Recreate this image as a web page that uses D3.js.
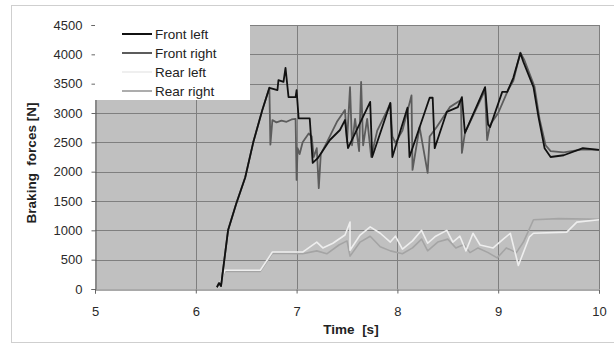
<!DOCTYPE html>
<html>
<head>
<meta charset="utf-8">
<script src="https://cdn.jsdelivr.net/npm/d3@7"></script>
<style>
  body { margin: 0; background: #fff; }
  svg { display: block; font-family: "Liberation Sans", Arial, sans-serif; }
</style>
</head>
<body>
<div id="chart"></div>
<script>
// time [s], force [N]
const frontLeft = [
  [6.21, 30], [6.23, 100], [6.25, 50], [6.32, 1000], [6.40, 1450], [6.49, 1900], [6.57, 2500], [6.66, 3050], [6.73, 3430],
  [6.81, 3390], [6.82, 3560], [6.87, 3530], [6.89, 3770], [6.92, 3270], [6.99, 3270], [7.0, 3390],
  [7.02, 2910], [7.13, 2910], [7.16, 2150], [7.21, 2230], [7.33, 2540], [7.43, 2710], [7.48, 2880],
  [7.51, 2400], [7.73, 3190], [7.75, 2250], [7.93, 3170], [7.95, 2250], [8.10, 3090], [8.12, 2250],
  [8.32, 3260], [8.35, 3260], [8.37, 2400], [8.49, 3020], [8.60, 3100], [8.64, 3270], [8.67, 2660],
  [8.87, 3440], [8.90, 2800], [8.92, 2760], [9.04, 3360], [9.09, 3360], [9.15, 3600], [9.22, 4020],
  [9.25, 3870], [9.35, 3440], [9.40, 2930], [9.46, 2400], [9.52, 2250], [9.65, 2280], [9.84, 2400],
  [10.0, 2370]
];
const frontRight = [
  [6.21, 30], [6.23, 100], [6.25, 50], [6.32, 1000], [6.40, 1450], [6.49, 1900], [6.57, 2500], [6.66, 3050], [6.73, 3430],
  [6.74, 2460], [6.76, 2880], [6.80, 2840], [6.85, 2870], [6.90, 2850], [6.95, 2890], [6.99, 2900],
  [7.0, 1860], [7.01, 2400], [7.03, 2300], [7.06, 2500], [7.12, 2650], [7.15, 2600], [7.17, 2250],
  [7.20, 2400], [7.22, 1720], [7.24, 2300], [7.30, 2500], [7.40, 2850], [7.48, 3050], [7.50, 2500],
  [7.53, 3440], [7.55, 2450], [7.58, 2900], [7.62, 2350], [7.64, 3530], [7.66, 2450], [7.70, 2900],
  [7.74, 2250], [7.80, 2700], [7.90, 3050], [7.93, 3170], [7.95, 2600], [7.98, 2490], [8.05, 2700],
  [8.14, 3300], [8.15, 2030], [8.22, 2760], [8.30, 1980], [8.32, 2600], [8.39, 2760], [8.52, 3100],
  [8.63, 3220], [8.64, 2320], [8.67, 2660], [8.87, 3390], [8.89, 2540], [8.92, 2800], [9.0, 3000],
  [9.10, 3400], [9.15, 3550], [9.22, 4030], [9.26, 3900], [9.36, 3450], [9.41, 2900], [9.47, 2450],
  [9.52, 2350], [9.65, 2330], [9.84, 2380], [10.0, 2370]
];
const rearLeft = [
  [6.22, 30], [6.29, 320], [6.64, 320], [6.76, 630], [7.06, 630], [7.20, 800], [7.26, 700],
  [7.36, 780], [7.48, 920], [7.53, 1140], [7.53, 660], [7.63, 920], [7.73, 1060], [7.83, 950],
  [7.93, 800], [7.98, 900], [8.05, 680], [8.15, 820], [8.24, 1000], [8.30, 780], [8.38, 900],
  [8.49, 1000], [8.55, 800], [8.62, 900], [8.68, 650], [8.75, 950], [8.82, 750], [8.95, 700],
  [9.05, 850], [9.12, 950], [9.20, 400], [9.31, 890], [9.35, 950], [9.68, 970], [9.78, 1140],
  [10.0, 1180]
];
const rearRight = [
  [6.22, 30], [6.29, 300], [6.64, 300], [6.76, 610], [7.06, 600], [7.20, 650], [7.30, 600],
  [7.42, 750], [7.50, 820], [7.53, 560], [7.63, 800], [7.73, 900], [7.83, 720], [7.93, 650],
  [8.05, 600], [8.15, 700], [8.24, 850], [8.30, 650], [8.40, 800], [8.50, 850], [8.58, 700],
  [8.66, 760], [8.72, 620], [8.80, 700], [8.90, 620], [8.99, 530], [9.08, 700], [9.18, 620],
  [9.25, 800], [9.35, 1180], [9.60, 1200], [10.0, 1190]
];
const seriesNames = ["Front left", "Front right", "Rear left", "Rear right"];
const xTicks = [5, 6, 7, 8, 9, 10];
const yTicks = [0, 500, 1000, 1500, 2000, 2500, 3000, 3500, 4000, 4500];

const W = 614, H = 343;
const m = { left: 95, right: 15, top: 25, bottom: 54 };
const colors = ["#111111", "#5c5c5c", "#eeeeee", "#a4a4a4"];
const widths = [1.8, 1.8, 1.6, 1.6];

const svg = d3.select("#chart").append("svg").attr("width", W).attr("height", H);

svg.append("rect").attr("x", 11.5).attr("y", 5.5).attr("width", W - 11).attr("height", H - 6)
  .attr("fill", "#fff").attr("stroke", "#cfcfcf");

const x = d3.scaleLinear().domain([5, 10]).range([m.left, W - m.right]);
const y = d3.scaleLinear().domain([0, 4500]).range([H - m.bottom, m.top]);

svg.append("rect").attr("x", x(5)).attr("y", y(4500))
  .attr("width", x(10) - x(5)).attr("height", y(0) - y(4500)).attr("fill", "#c0c0c0");

const grid = svg.append("g").attr("stroke", "#7f7f7f").attr("stroke-width", 1);
grid.selectAll(".gy").data(yTicks.slice(1)).join("line")
  .attr("x1", x(5)).attr("x2", x(10))
  .attr("y1", d => Math.round(y(d)) + 0.5).attr("y2", d => Math.round(y(d)) + 0.5);
grid.selectAll(".gx").data(xTicks.slice(1)).join("line")
  .attr("y1", y(4500)).attr("y2", y(0))
  .attr("x1", d => Math.round(x(d)) + 0.5).attr("x2", d => Math.round(x(d)) + 0.5);

const xAxis = svg.append("g").attr("transform", `translate(0,${Math.round(y(0)) + 0.5})`)
  .call(d3.axisBottom(x).tickValues(xTicks).tickSize(4).tickPadding(13).tickFormat(d3.format("d")));
const yAxis = svg.append("g").attr("transform", `translate(${Math.round(x(5)) + 0.5},0)`)
  .call(d3.axisLeft(y).tickValues(yTicks).tickSize(4).tickPadding(9).tickFormat(d3.format("d")));
[xAxis, yAxis].forEach(a => {
  a.select(".domain").attr("stroke", "#555");
  a.selectAll(".tick line").attr("stroke", "#666");
  a.selectAll("text").attr("font-size", 13).attr("fill", "#2a2a2a")
    .attr("font-family", "'Liberation Sans', Arial, sans-serif");
});

const line = d3.line().x(d => x(d[0])).y(d => y(d[1])).curve(d3.curveMonotoneX);
const data = [rearRight, rearLeft, frontRight, frontLeft];
const order = [3, 2, 1, 0];
svg.append("g").selectAll("path").data(data).join("path")
  .attr("d", d3.line().x(d => x(d[0])).y(d => y(d[1])))
  .attr("fill", "none")
  .attr("stroke", (d, i) => colors[order[i]])
  .attr("stroke-width", (d, i) => widths[order[i]])
  .attr("stroke-linejoin", "round");

// legend
const lg = svg.append("g");
lg.append("rect").attr("x", x(5)).attr("y", y(4500)).attr("width", 155).attr("height", 75).attr("fill", "#fff");
seriesNames.forEach((name, i) => {
  const yy = 34 + i * 19;
  lg.append("line").attr("x1", 122).attr("x2", 152).attr("y1", yy).attr("y2", yy)
    .attr("stroke", colors[i]).attr("stroke-width", widths[i] + 0.2);
  lg.append("text").attr("x", 155).attr("y", yy + 5).attr("font-size", 13.5).attr("fill", "#222").text(name);
});

svg.append("text").attr("transform", `translate(36,163) rotate(-90)`)
  .attr("text-anchor", "middle").attr("font-weight", "bold").attr("font-size", 13.5).attr("fill", "#222")
  .attr("xml:space", "preserve").text("Braking  forces [N]");
svg.append("text").attr("x", 351).attr("y", 334).attr("text-anchor", "middle")
  .attr("font-weight", "bold").attr("font-size", 13.5).attr("fill", "#222")
  .attr("xml:space", "preserve").text("Time  [s]");
</script>
</body>
</html>
